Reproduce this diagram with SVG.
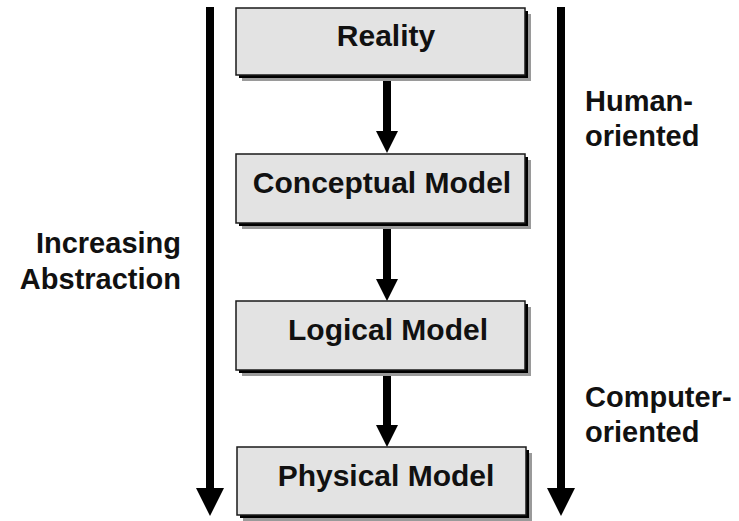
<svg xmlns="http://www.w3.org/2000/svg" width="739" height="521" viewBox="0 0 739 521">
<defs>
<style>
.box{fill:#e3e3e3;stroke:#1a1a1a;stroke-width:1.5}
.sh1{fill:#9a9a9a}
.sh2{fill:#000}
.lbl{font-family:"Liberation Sans",Arial,sans-serif;font-weight:bold;font-size:30px;fill:#111;text-anchor:middle}
.side{font-family:"Liberation Sans",Arial,sans-serif;font-weight:bold;font-size:29px;fill:#111}
.con{stroke:#000;stroke-width:8;fill:none}
</style>
<marker id="ah" markerUnits="userSpaceOnUse" viewBox="0 0 22 22" markerWidth="22" markerHeight="22" refX="0" refY="11" orient="auto">
<path d="M0,0 L22,11 L0,22 z" fill="#000"/>
</marker>
<marker id="big" markerUnits="userSpaceOnUse" viewBox="0 0 28 28" markerWidth="28" markerHeight="28" refX="0" refY="14" orient="auto">
<path d="M0,0 L28,14 L0,28 z" fill="#000"/>
</marker>
</defs>
<rect width="739" height="521" fill="#fff"/>
<g id="connectors">
<line class="con" x1="210" y1="7" x2="210" y2="488" marker-end="url(#big)"/>
<line class="con" x1="561" y1="7" x2="561" y2="488" marker-end="url(#big)"/>
<line class="con" x1="387" y1="76" x2="387" y2="131" marker-end="url(#ah)"/>
<line class="con" x1="387" y1="222" x2="387" y2="279" marker-end="url(#ah)"/>
<line class="con" x1="387" y1="369" x2="387" y2="425" marker-end="url(#ah)"/>
</g>
<g id="reality">
<rect class="sh1" x="242" y="14" width="289" height="67"/>
<rect class="sh2" x="239" y="11" width="289" height="67"/>
<rect class="box" x="236" y="8" width="289" height="67"/>
<text class="lbl" x="386" y="46">Reality</text>
</g>
<g id="conceptual">
<rect class="sh1" x="242" y="160" width="289" height="69"/>
<rect class="sh2" x="239" y="157" width="289" height="69"/>
<rect class="box" x="236" y="154" width="289" height="69"/>
<text class="lbl" x="382" y="193">Conceptual Model</text>
</g>
<g id="logical">
<rect class="sh1" x="242" y="307" width="289" height="69"/>
<rect class="sh2" x="239" y="304" width="289" height="69"/>
<rect class="box" x="236" y="301" width="289" height="69"/>
<text class="lbl" x="388" y="340">Logical Model</text>
</g>
<g id="physical">
<rect class="sh1" x="243" y="453" width="289" height="68"/>
<rect class="sh2" x="240" y="450" width="289" height="68"/>
<rect class="box" x="237" y="447" width="289" height="68"/>
<text class="lbl" x="386" y="486">Physical Model</text>
</g>
<g id="left-label">
<text class="side" x="181" y="253" text-anchor="end">Increasing</text>
<text class="side" x="181" y="289" text-anchor="end">Abstraction</text>
</g>
<g id="human-label">
<text class="side" x="585" y="111">Human-</text>
<text class="side" x="585" y="146">oriented</text>
</g>
<g id="computer-label">
<text class="side" x="585" y="407">Computer-</text>
<text class="side" x="585" y="442">oriented</text>
</g>
</svg>
